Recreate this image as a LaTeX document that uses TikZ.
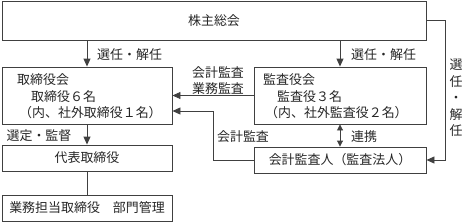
\documentclass[tikz,border=0pt]{standalone}
\usepackage{fontspec}
\newfontfamily\jp{Noto Sans CJK JP}
\usetikzlibrary{arrows.meta,calc}
\begin{document}
\begin{tikzpicture}[x=1bp,y=-1bp,
  every node/.style={font=\jp\fontsize{13}{16}\selectfont, text=black!85, inner sep=0pt},
  box/.style={draw=black!75, line width=0.9bp, minimum width=#1, anchor=center},
  ln/.style={draw=black!75, line width=0.9bp},
  arr/.style={ln, -{Triangle[length=8bp,width=7bp]}},
  darr/.style={ln, {Triangle[length=6bp,width=6bp]}-{Triangle[length=6bp,width=6bp]}}]
\useasboundingbox (0,0) rectangle (466,222);
% boxes
\node[box=424bp, minimum height=39bp] (top) at (214,20.5) {株主総会};
\node[box=170bp, minimum height=57bp] (tori) at (87,95.5) {};
\node[box=172bp, minimum height=57bp] (kansa) at (340,95.5) {};
\node[box=170bp, minimum height=26bp] (daihyo) at (87,158) {代表取締役};
\node[box=170bp, minimum height=26bp] (gyomu) at (87,208) {業務担当取締役　部門管理};
\node[box=172bp, minimum height=26bp] (kaikei) at (340,160) {会計監査人（監査法人）};
% box texts
\node[anchor=west] (t1) at (17,80) {取締役会};
\node[anchor=west] (t2) at (31,96.5) {取締役６名};
\node[anchor=west] (t3) at (19,113) {（内、社外取締役１名）};
\node[anchor=west] (k1) at (263,80) {監査役会};
\node[anchor=west] (k2) at (277,96.5) {監査役３名};
\node[anchor=west] (k3) at (265,113) {（内、社外監査役２名）};
% labels
\node[anchor=west] (l1) at (97,55) {選任・解任};
\node[anchor=west] (l2) at (351,55) {選任・解任};
\node (l3) at (218,73) {会計監査};
\node (l4) at (218,89) {業務監査};
\node (l5) at (243,137) {会計監査};
\node[anchor=west] (l6) at (351,137) {連携};
\node (l7) at (39,136) {選定・監督};
\node[align=center, font=\jp\fontsize{13}{16.5}\selectfont] (l8) at (456,98) {選\\任\\・\\解\\任};
% connectors
\draw[arr] (top.south -| tori.north) -- (tori.north);
\draw[arr] (top.south -| kansa.north) -- (kansa.north);
\draw[arr] (kansa.west) -- (kansa.west -| tori.east);
\coordinate (bend) at (213,111);
\draw[arr] (kaikei.west) -| (bend) -- (bend -| tori.east);
\draw[darr] (kansa.south) -- (kaikei.north);
\coordinate (rr) at (445,20.5);
\draw[arr] (top.east) -- (rr) |- (kaikei.east);
\draw[arr] (tori.south) -- (daihyo.north);
\draw[ln] (daihyo.south) -- (gyomu.north);
\end{tikzpicture}
\end{document}
